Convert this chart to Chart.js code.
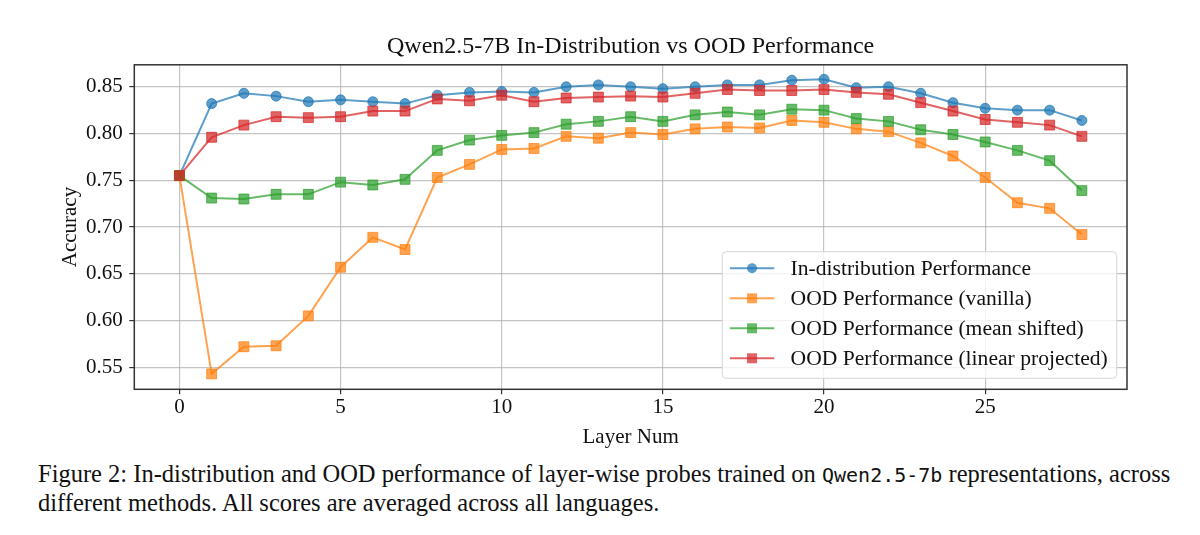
<!DOCTYPE html>
<html>
<head>
<meta charset="utf-8">
<script src="https://cdn.jsdelivr.net/npm/chart.js@4.4.1/dist/chart.umd.min.js"></script>
<style>
  body { margin: 0; background: #fff; }
  #wrap { position: absolute; left: 0; top: 0; width: 1200px; height: 455px; }
  #caption {
    position: absolute; left: 38px; top: 460px; width: 1160px;
    font-family: 'Liberation Serif', 'Times New Roman', serif;
    font-size: 24.5px; line-height: 28px; color: #111; white-space: nowrap;
  }
  #caption code { font-family: 'DejaVu Sans Mono', 'Liberation Mono', monospace; font-size: 20px; }
</style>
</head>
<body>
<div id="wrap"><canvas id="myChart" width="1200" height="455"></canvas></div>
<div id="caption">Figure 2: In-distribution and OOD performance of layer-wise probes trained on <code>Qwen2.5-7b</code> representations, across<br>different methods. All scores are averaged across all languages.</div>
<script>
// layer index on x axis
const layers = [0, 1, 2, 3, 4, 5, 6, 7, 8, 9, 10, 11, 12, 13, 14, 15, 16, 17, 18, 19, 20, 21, 22, 23, 24, 25, 26, 27, 28];

const inDist = [0.755, 0.832, 0.843, 0.840, 0.834, 0.836, 0.834, 0.832, 0.841, 0.844,
                0.845, 0.844, 0.850, 0.852, 0.850, 0.848, 0.850, 0.852, 0.852, 0.857,
                0.858, 0.849, 0.850, 0.843, 0.833, 0.827, 0.825, 0.825, 0.814];
const oodVanilla = [0.755, 0.543, 0.572, 0.573, 0.605, 0.657, 0.689, 0.676, 0.753, 0.767,
                    0.783, 0.784, 0.797, 0.795, 0.801, 0.799, 0.805, 0.807, 0.806, 0.814,
                    0.812, 0.805, 0.802, 0.790, 0.776, 0.753, 0.726, 0.720, 0.692];
const oodMeanShifted = [0.755, 0.731, 0.730, 0.735, 0.735, 0.748, 0.745, 0.751, 0.782, 0.793,
                        0.798, 0.801, 0.810, 0.813, 0.818, 0.813, 0.820, 0.823, 0.820, 0.826,
                        0.825, 0.816, 0.813, 0.804, 0.799, 0.791, 0.782, 0.771, 0.739];
const oodLinearProj = [0.755, 0.796, 0.809, 0.818, 0.817, 0.818, 0.824, 0.824, 0.837, 0.835,
                       0.841, 0.834, 0.838, 0.839, 0.840, 0.839, 0.843, 0.847, 0.846, 0.846,
                       0.847, 0.844, 0.842, 0.833, 0.824, 0.815, 0.812, 0.809, 0.797];

const seriesNames = ["In-distribution Performance", "OOD Performance (vanilla)",
                     "OOD Performance (mean shifted)", "OOD Performance (linear projected)"];
const xTicks = [0, 5, 10, 15, 20, 25];
const yTicks = [0.55, 0.60, 0.65, 0.70, 0.75, 0.80, 0.85];

const serif = "'Liberation Serif', 'Times New Roman', serif";

function pts(vals) {
    return layers.map((l, i) => ({ x: l, y: vals[i] }));
}

function makeSet(label, vals, color, style, order) {
    return {
        label: label,
        data: pts(vals),
        borderColor: color,
        backgroundColor: color,
        pointBorderColor: color,
        pointBackgroundColor: color,
        borderWidth: 2,
        pointStyle: style,
        pointRadius: style === 'circle' ? 5 : 7,
        pointBorderWidth: 1,
        tension: 0,
        order: order
    };
}

// matplotlib style frame around the axes
const framePlugin = {
    id: 'frame',
    afterDatasetsDraw(chart) {
        const a = chart.chartArea, ctx = chart.ctx;
        ctx.save();
        ctx.strokeStyle = '#333';
        ctx.lineWidth = 1.5;
        ctx.strokeRect(a.left, a.top, a.right - a.left, a.bottom - a.top);
        ctx.restore();
    }
};

// legend drawn in the lower right corner of the plot
const boxLegend = {
    id: 'boxLegend',
    afterDraw(chart) {
        const a = chart.chartArea, ctx = chart.ctx;
        const sets = chart.data.datasets;
        ctx.save();
        ctx.font = '21.6px ' + serif;
        let tw = 0;
        sets.forEach(d => { tw = Math.max(tw, ctx.measureText(d.label).width); });
        const rowH = 30;
        const w = 7.6 + 44.4 + 16.3 + tw + 9;
        const h = 126.6;
        const x0 = a.right - 10.3 - w;
        const y0 = a.bottom - 11 - h;
        ctx.beginPath();
        ctx.roundRect(x0, y0, w, h, 4);
        ctx.fillStyle = 'rgba(255,255,255,0.8)';
        ctx.fill();
        ctx.strokeStyle = '#d6d6d6';
        ctx.lineWidth = 1;
        ctx.stroke();
        sets.forEach((d, i) => {
            const cy = y0 + 16.6 + i * rowH;
            const lx = x0 + 7.6;
            ctx.strokeStyle = d.borderColor;
            ctx.lineWidth = 2;
            ctx.beginPath();
            ctx.moveTo(lx, cy);
            ctx.lineTo(lx + 44.4, cy);
            ctx.stroke();
            ctx.fillStyle = d.borderColor;
            const mx = lx + 22.2;
            ctx.beginPath();
            if (d.pointStyle === 'circle') ctx.arc(mx, cy, 5, 0, Math.PI * 2);
            else ctx.rect(mx - 5, cy - 5, 10, 10);
            ctx.fill();
            ctx.fillStyle = '#111';
            ctx.textBaseline = 'middle';
            ctx.fillText(d.label, lx + 44.4 + 16.3, cy + 1);
        });
        ctx.restore();
    }
};

new Chart(document.getElementById("myChart"), {
    type: 'line',
    data: {
        datasets: [
            makeSet(seriesNames[0], inDist, 'rgba(31,119,180,0.72)', 'circle', 4),
            makeSet(seriesNames[1], oodVanilla, 'rgba(255,127,14,0.72)', 'rect', 3),
            makeSet(seriesNames[2], oodMeanShifted, 'rgba(44,160,44,0.72)', 'rect', 2),
            makeSet(seriesNames[3], oodLinearProj, 'rgba(214,39,40,0.72)', 'rect', 1)
        ]
    },
    options: {
        responsive: false,
        animation: false,
        devicePixelRatio: 1,
        layout: { padding: { left: 0, right: 73, top: 0, bottom: 0 } },
        plugins: {
            legend: { display: false },
            tooltip: { enabled: false },
            title: {
                display: true,
                fullSize: false,
                text: 'Qwen2.5-7B In-Distribution vs OOD Performance',
                color: '#111',
                font: { family: serif, size: 24, weight: 'normal' },
                padding: { top: 32, bottom: 4 }
            }
        },
        scales: {
            x: {
                type: 'linear',
                min: -1.4,
                max: 29.4,
                afterBuildTicks: s => { s.ticks = xTicks.map(v => ({ value: v })); },
                afterFit: s => { s.height = 65.7; },
                ticks: {
                    color: '#111',
                    padding: 1,
                    maxRotation: 0,
                    font: { family: serif, size: 21 },
                    callback: v => String(v)
                },
                grid: { color: 'rgba(176,176,176,0.75)', lineWidth: 1.2, tickColor: '#333', tickLength: 5 },
                border: { display: false },
                title: {
                    display: true,
                    text: 'Layer Num',
                    color: '#111',
                    font: { family: serif, size: 21 },
                    padding: { top: 0, bottom: 5.4 }
                }
            },
            y: {
                type: 'linear',
                min: 0.5265,
                max: 0.8735,
                afterBuildTicks: s => { s.ticks = yTicks.map(v => ({ value: v })); },
                afterFit: s => { s.width = 134.3; },
                ticks: {
                    color: '#111',
                    padding: 6.6,
                    font: { family: serif, size: 21 },
                    callback: v => v.toFixed(2)
                },
                grid: { color: 'rgba(176,176,176,0.75)', lineWidth: 1.2, tickColor: '#333', tickLength: 5 },
                border: { display: false },
                title: {
                    display: true,
                    text: 'Accuracy',
                    color: '#111',
                    font: { family: serif, size: 21 },
                    padding: { top: 57.4, bottom: 0 }
                }
            }
        }
    },
    plugins: [framePlugin, boxLegend]
});
</script>
</body>
</html>
